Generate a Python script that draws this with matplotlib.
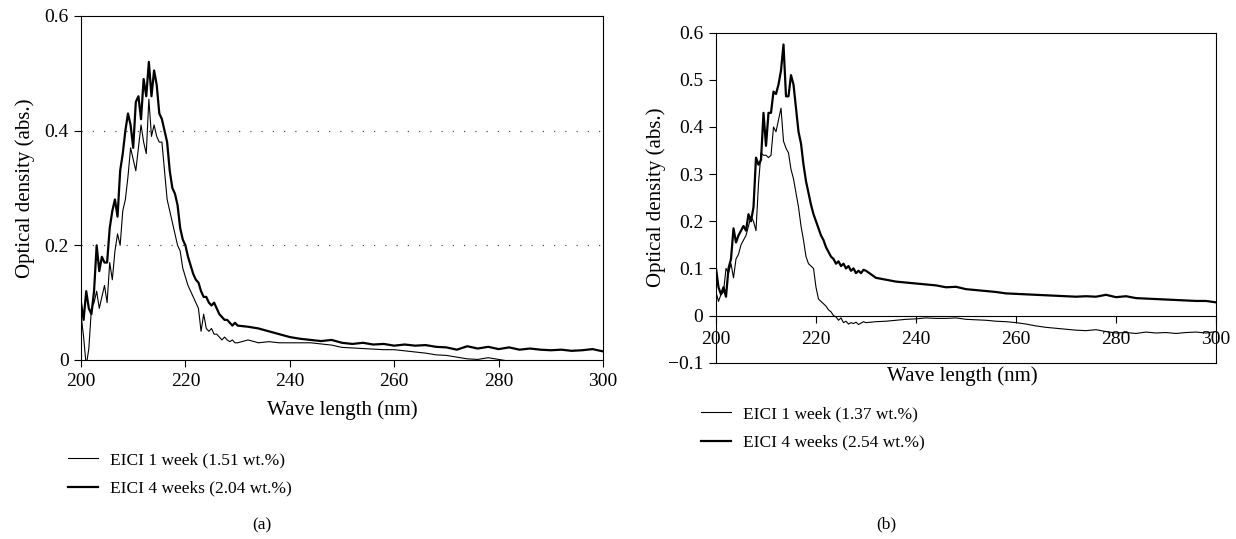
import numpy as np
import matplotlib
matplotlib.use("Agg")
import matplotlib.pyplot as plt

plt.rcParams['font.family'] = ['Liberation Serif', 'DejaVu Serif']
plt.rcParams['font.size'] = 13

# ---------------- data ----------------
wl_fine = np.arange(200, 230, 0.5)   # 200 .. 229.5 nm
wl_tail = np.arange(230, 301, 2)     # 230 .. 300 nm
wavelength = np.concatenate([wl_fine, wl_tail])

# (a) EICI 1 week (1.51 wt.%)
a_1week = [0.08, 0.04, -0.01, 0.02, 0.09, 0.10, 0.12, 0.09, 0.11, 0.13,
           0.10, 0.17, 0.14, 0.19, 0.22, 0.20, 0.26, 0.28, 0.32, 0.37,
           0.35, 0.33, 0.37, 0.41, 0.38, 0.36, 0.455, 0.39, 0.41, 0.39,
           0.38, 0.38, 0.33, 0.28, 0.26, 0.24, 0.22, 0.20, 0.19, 0.16,
           0.145, 0.13, 0.12, 0.11, 0.10, 0.09, 0.05, 0.08, 0.055, 0.05,
           0.055, 0.045, 0.045, 0.04, 0.035, 0.04, 0.035, 0.032, 0.035, 0.03,
           0.03, 0.035, 0.03, 0.032, 0.03, 0.03, 0.03, 0.03, 0.028, 0.026,
           0.022, 0.021, 0.02, 0.019, 0.018, 0.018, 0.016, 0.014, 0.012, 0.009,
           0.008, 0.005, 0.002, 0.001, 0.004, 0.001, -0.002, -0.005, -0.008, -0.01,
           -0.012, -0.014, -0.015, -0.016, -0.018, -0.02]

# (a) EICI 4 weeks (2.04 wt.%)
a_4weeks = [0.10, 0.07, 0.12, 0.09, 0.08, 0.12, 0.20, 0.155, 0.18, 0.17,
            0.17, 0.23, 0.26, 0.28, 0.25, 0.33, 0.36, 0.40, 0.43, 0.41,
            0.37, 0.45, 0.46, 0.42, 0.49, 0.46, 0.52, 0.46, 0.505, 0.48,
            0.43, 0.42, 0.40, 0.38, 0.33, 0.30, 0.29, 0.27, 0.23, 0.21,
            0.20, 0.18, 0.165, 0.15, 0.14, 0.135, 0.12, 0.11, 0.11, 0.10,
            0.095, 0.10, 0.09, 0.08, 0.075, 0.07, 0.07, 0.065, 0.06, 0.065,
            0.06, 0.058, 0.055, 0.05, 0.045, 0.04, 0.037, 0.035, 0.033, 0.035,
            0.030, 0.028, 0.030, 0.027, 0.028, 0.025, 0.027, 0.025, 0.026, 0.023,
            0.022, 0.018, 0.024, 0.02, 0.023, 0.019, 0.022, 0.018, 0.02, 0.018,
            0.017, 0.018, 0.016, 0.017, 0.019, 0.015]

# (b) EICI 1 week (1.37 wt.%)
b_1week = [0.05, 0.03, 0.045, 0.05, 0.10, 0.09, 0.11, 0.08, 0.12, 0.13,
           0.15, 0.16, 0.17, 0.19, 0.21, 0.20, 0.18, 0.28, 0.345, 0.34,
           0.34, 0.335, 0.34, 0.40, 0.39, 0.415, 0.44, 0.37, 0.355, 0.345,
           0.31, 0.29, 0.26, 0.23, 0.19, 0.16, 0.125, 0.11, 0.105, 0.10,
           0.06, 0.035, 0.03, 0.025, 0.02, 0.012, 0.008, 0.0, -0.003, -0.01,
           -0.005, -0.015, -0.012, -0.018, -0.015, -0.017, -0.014, -0.019, -0.016, -0.013,
           -0.015, -0.013, -0.012, -0.01, -0.008, -0.007, -0.005, -0.006, -0.006, -0.005,
           -0.008, -0.009, -0.010, -0.012, -0.013, -0.015, -0.018, -0.022, -0.025, -0.027,
           -0.029, -0.031, -0.032, -0.030, -0.034, -0.037, -0.036, -0.038, -0.035, -0.037,
           -0.036, -0.038, -0.036, -0.035, -0.037, -0.034]

# (b) EICI 4 weeks (2.54 wt.%)
b_4weeks = [0.10, 0.06, 0.045, 0.06, 0.04, 0.10, 0.12, 0.185, 0.155, 0.17,
            0.18, 0.19, 0.18, 0.215, 0.20, 0.23, 0.335, 0.32, 0.33, 0.43,
            0.36, 0.43, 0.43, 0.475, 0.47, 0.49, 0.52, 0.575, 0.465, 0.465,
            0.51, 0.49, 0.44, 0.39, 0.365, 0.32, 0.285, 0.26, 0.235, 0.215,
            0.20, 0.185, 0.17, 0.16, 0.145, 0.135, 0.125, 0.12, 0.11, 0.115,
            0.105, 0.11, 0.10, 0.105, 0.095, 0.10, 0.09, 0.095, 0.09, 0.097,
            0.095, 0.08, 0.076, 0.072, 0.07, 0.068, 0.066, 0.064, 0.06, 0.061,
            0.056, 0.054, 0.052, 0.05, 0.047, 0.046, 0.045, 0.044, 0.043, 0.042,
            0.041, 0.040, 0.041, 0.040, 0.044, 0.039, 0.041, 0.037, 0.036, 0.035,
            0.034, 0.033, 0.032, 0.031, 0.031, 0.028]

labels_a = ["EICI 1 week (1.51 wt.%)", "EICI 4 weeks (2.04 wt.%)"]
labels_b = ["EICI 1 week (1.37 wt.%)", "EICI 4 weeks (2.54 wt.%)"]
x_ticks = [200, 220, 240, 260, 280, 300]
ya_ticks = [0, 0.2, 0.4, 0.6]
ya_ticklabels = ["0", "0.2", "0.4", "0.6"]
yb_ticks = [-0.1, 0, 0.1, 0.2, 0.3, 0.4, 0.5, 0.6]
yb_ticklabels = ["\u22120.1", "0", "0.1", "0.2", "0.3", "0.4", "0.5", "0.6"]

# ---------------- figure ----------------
W, H = 1236, 539
fig = plt.figure(figsize=(W / 100, H / 100), dpi=100)

def fx(px):
    return px / W

def fy(py):
    return 1 - py / H

THIN, THICK = 0.8, 1.6
TICK_FS, LABEL_FS, LEG_FS = 14, 15, 12.5

# ---- panel (a) ----
ax1 = fig.add_axes([fx(81), fy(360), fx(603) - fx(81), fy(16) - fy(360)])
ax1.plot(wavelength, a_1week, color='black', lw=THIN, label=labels_a[0])
ax1.plot(wavelength, a_4weeks, color='black', lw=THICK, label=labels_a[1])
ax1.set_xlim(200, 300)
ax1.set_ylim(0, 0.6)
ax1.set_xticks(x_ticks)
ax1.set_yticks(ya_ticks)
ax1.set_yticklabels(ya_ticklabels)
for yv in [0.2, 0.4]:
    ax1.axhline(yv, color='#555555', lw=0.9, ls=(0, (1, 8)), zorder=0)
ax1.set_xlabel("Wave length (nm)", fontsize=LABEL_FS)
ax1.set_ylabel("Optical density (abs.)", fontsize=LABEL_FS)
ax1.xaxis.set_label_coords(0.5, -0.118)
ax1.yaxis.set_label_coords(-0.089, 0.5)
ax1.tick_params(direction='out', length=5, width=0.8, labelsize=TICK_FS, pad=4)
for s in ax1.spines.values():
    s.set_linewidth(0.8)
ax1.legend(loc='upper left', bbox_to_anchor=(fx(68), fy(452)),
           bbox_transform=fig.transFigure, frameon=False, fontsize=LEG_FS,
           handlelength=1.7, handletextpad=0.72, labelspacing=0.72,
           borderpad=0, borderaxespad=0)
fig.text(fx(262), fy(525), "(a)", ha='center', va='center', fontsize=LEG_FS)

# ---- panel (b) ----
ax2 = fig.add_axes([fx(716), fy(362.7), fx(1216) - fx(716), fy(32.7) - fy(362.7)])
ax2.plot(wavelength, b_1week, color='black', lw=THIN, label=labels_b[0])
ax2.plot(wavelength, b_4weeks, color='black', lw=THICK, label=labels_b[1])
ax2.set_xlim(200, 300)
ax2.set_ylim(-0.1, 0.6)
ax2.set_xticks(x_ticks)
ax2.set_yticks(yb_ticks)
ax2.set_yticklabels(yb_ticklabels)
ax2.spines['bottom'].set_position(('data', 0))
ax2.plot([0, 1], [0, 0], transform=ax2.transAxes, color='black', lw=0.8,
         clip_on=False)
ax2.set_xlabel("Wave length (nm)", fontsize=LABEL_FS)
ax2.set_ylabel("Optical density (abs.)", fontsize=LABEL_FS)
ax2.xaxis.set_label_coords(0.492, -0.01)
ax2.yaxis.set_label_coords(-0.100, 0.5)
ax2.tick_params(direction='out', length=5, width=0.8, labelsize=TICK_FS, pad=4)
ax2.tick_params(axis='x', pad=6)
for s in ax2.spines.values():
    s.set_linewidth(0.8)
ax2.legend(loc='upper left', bbox_to_anchor=(fx(701), fy(406)),
           bbox_transform=fig.transFigure, frameon=False, fontsize=LEG_FS,
           handlelength=1.7, handletextpad=0.72, labelspacing=0.72,
           borderpad=0, borderaxespad=0)
fig.text(fx(886), fy(524), "(b)", ha='center', va='center', fontsize=LEG_FS)

fig.savefig("out.png", dpi=100)
